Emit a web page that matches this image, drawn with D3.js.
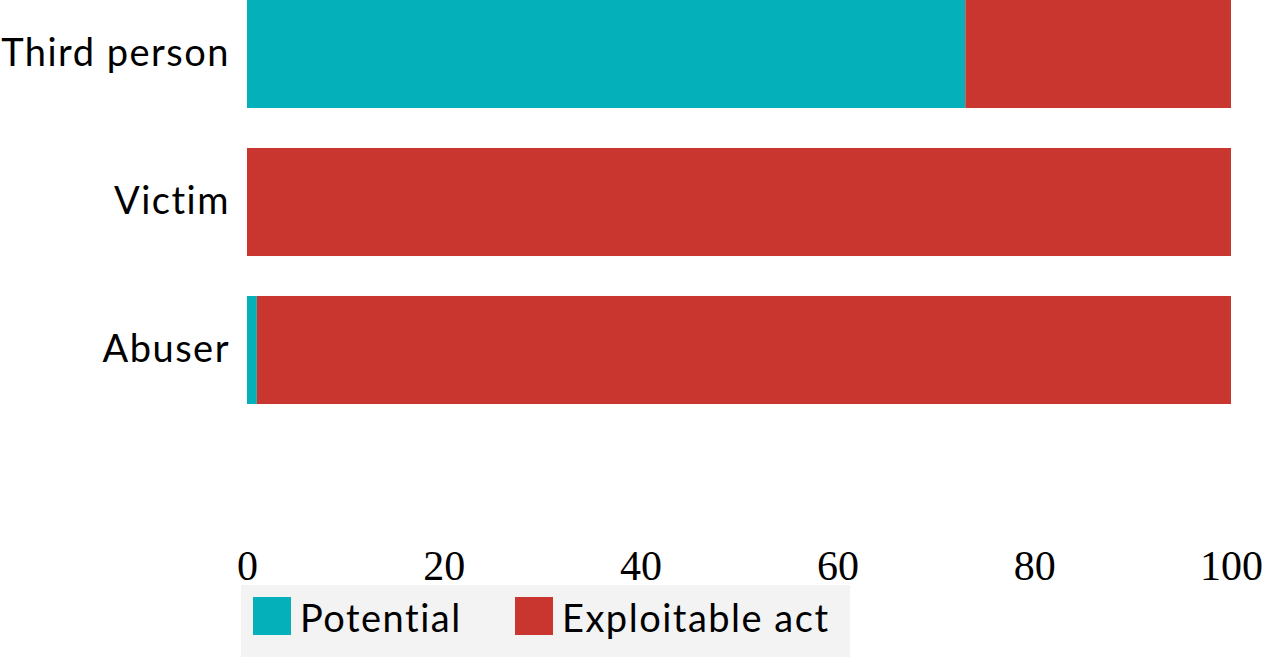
<!DOCTYPE html>
<html>
<head>
<meta charset="utf-8">
<script src="https://cdn.jsdelivr.net/npm/d3@7"></script>
<style>
  body { margin: 0; background: #fff; }
  svg { display: block; }
</style>
</head>
<body>
<div id="chart"></div>
<script>
// categories top to bottom
const categories = ["Third person", "Victim", "Abuser"];
const potential = [73, 0, 1];
const exploitable = [27, 100, 99];
const xTicks = [0, 20, 40, 60, 80, 100];
const seriesNames = ["Potential", "Exploitable act"];
const seriesColors = ["#04b0b9", "#c8362f"];

const width = 1266, height = 657;

const svg = d3.select("#chart").append("svg")
  .attr("width", width)
  .attr("height", height);

const x = d3.scaleLinear().domain([0, 100]).range([247, 1231]);
const y = d3.scaleBand().domain(categories).range([-20, 424])
  .paddingInner(0.27).paddingOuter(0.135);

// stack the two series
const rows = categories.map((c, i) => ({ cat: c, Potential: potential[i], "Exploitable act": exploitable[i] }));
const stacked = d3.stack().keys(seriesNames)(rows);

const color = d3.scaleOrdinal().domain(seriesNames).range(seriesColors);

svg.append("g").selectAll("g")
  .data(stacked)
  .join("g")
  .attr("fill", d => color(d.key))
  .selectAll("rect")
  .data(d => d)
  .join("rect")
  .attr("x", d => x(d[0]))
  .attr("width", d => x(d[1]) - x(d[0]))
  .attr("y", d => y(d.data.cat))
  .attr("height", y.bandwidth());

// category labels
const yAxis = svg.append("g")
  .attr("transform", "translate(247,0)")
  .call(d3.axisLeft(y).tickSize(0).tickPadding(17));
yAxis.select(".domain").remove();
yAxis.selectAll("text")
  .attr("font-family", "Lato, 'Liberation Sans', sans-serif")
  .attr("font-size", 38)
  .attr("letter-spacing", 1.5)
  .attr("fill", "#000");

// x tick labels (no axis line)
const xAxis = svg.append("g")
  .attr("transform", "translate(0,540)")
  .call(d3.axisBottom(x).tickValues(xTicks).tickSize(0).tickPadding(0));
xAxis.select(".domain").remove();
xAxis.selectAll("text")
  .attr("dy", "0.95em")
  .attr("font-family", "'Liberation Serif', 'DejaVu Serif', serif")
  .attr("font-size", 42)
  .attr("fill", "#000");

// legend
const legend = svg.append("g");
legend.append("rect")
  .attr("x", 241).attr("y", 585)
  .attr("width", 609).attr("height", 80)
  .attr("fill", "#f3f3f3");

const legendX = [253, 515];
const items = legend.selectAll("g.item")
  .data(seriesNames)
  .join("g")
  .attr("class", "item")
  .attr("transform", (d, i) => `translate(${legendX[i]},597)`);

items.append("rect")
  .attr("width", 38).attr("height", 38)
  .attr("fill", d => color(d));

items.append("text")
  .attr("x", 47)
  .attr("y", 35)
  .attr("font-family", "Lato, 'Liberation Sans', sans-serif")
  .attr("font-size", 38)
  .attr("letter-spacing", 1.5)
  .attr("fill", "#000")
  .text(d => d);
</script>
</body>
</html>
